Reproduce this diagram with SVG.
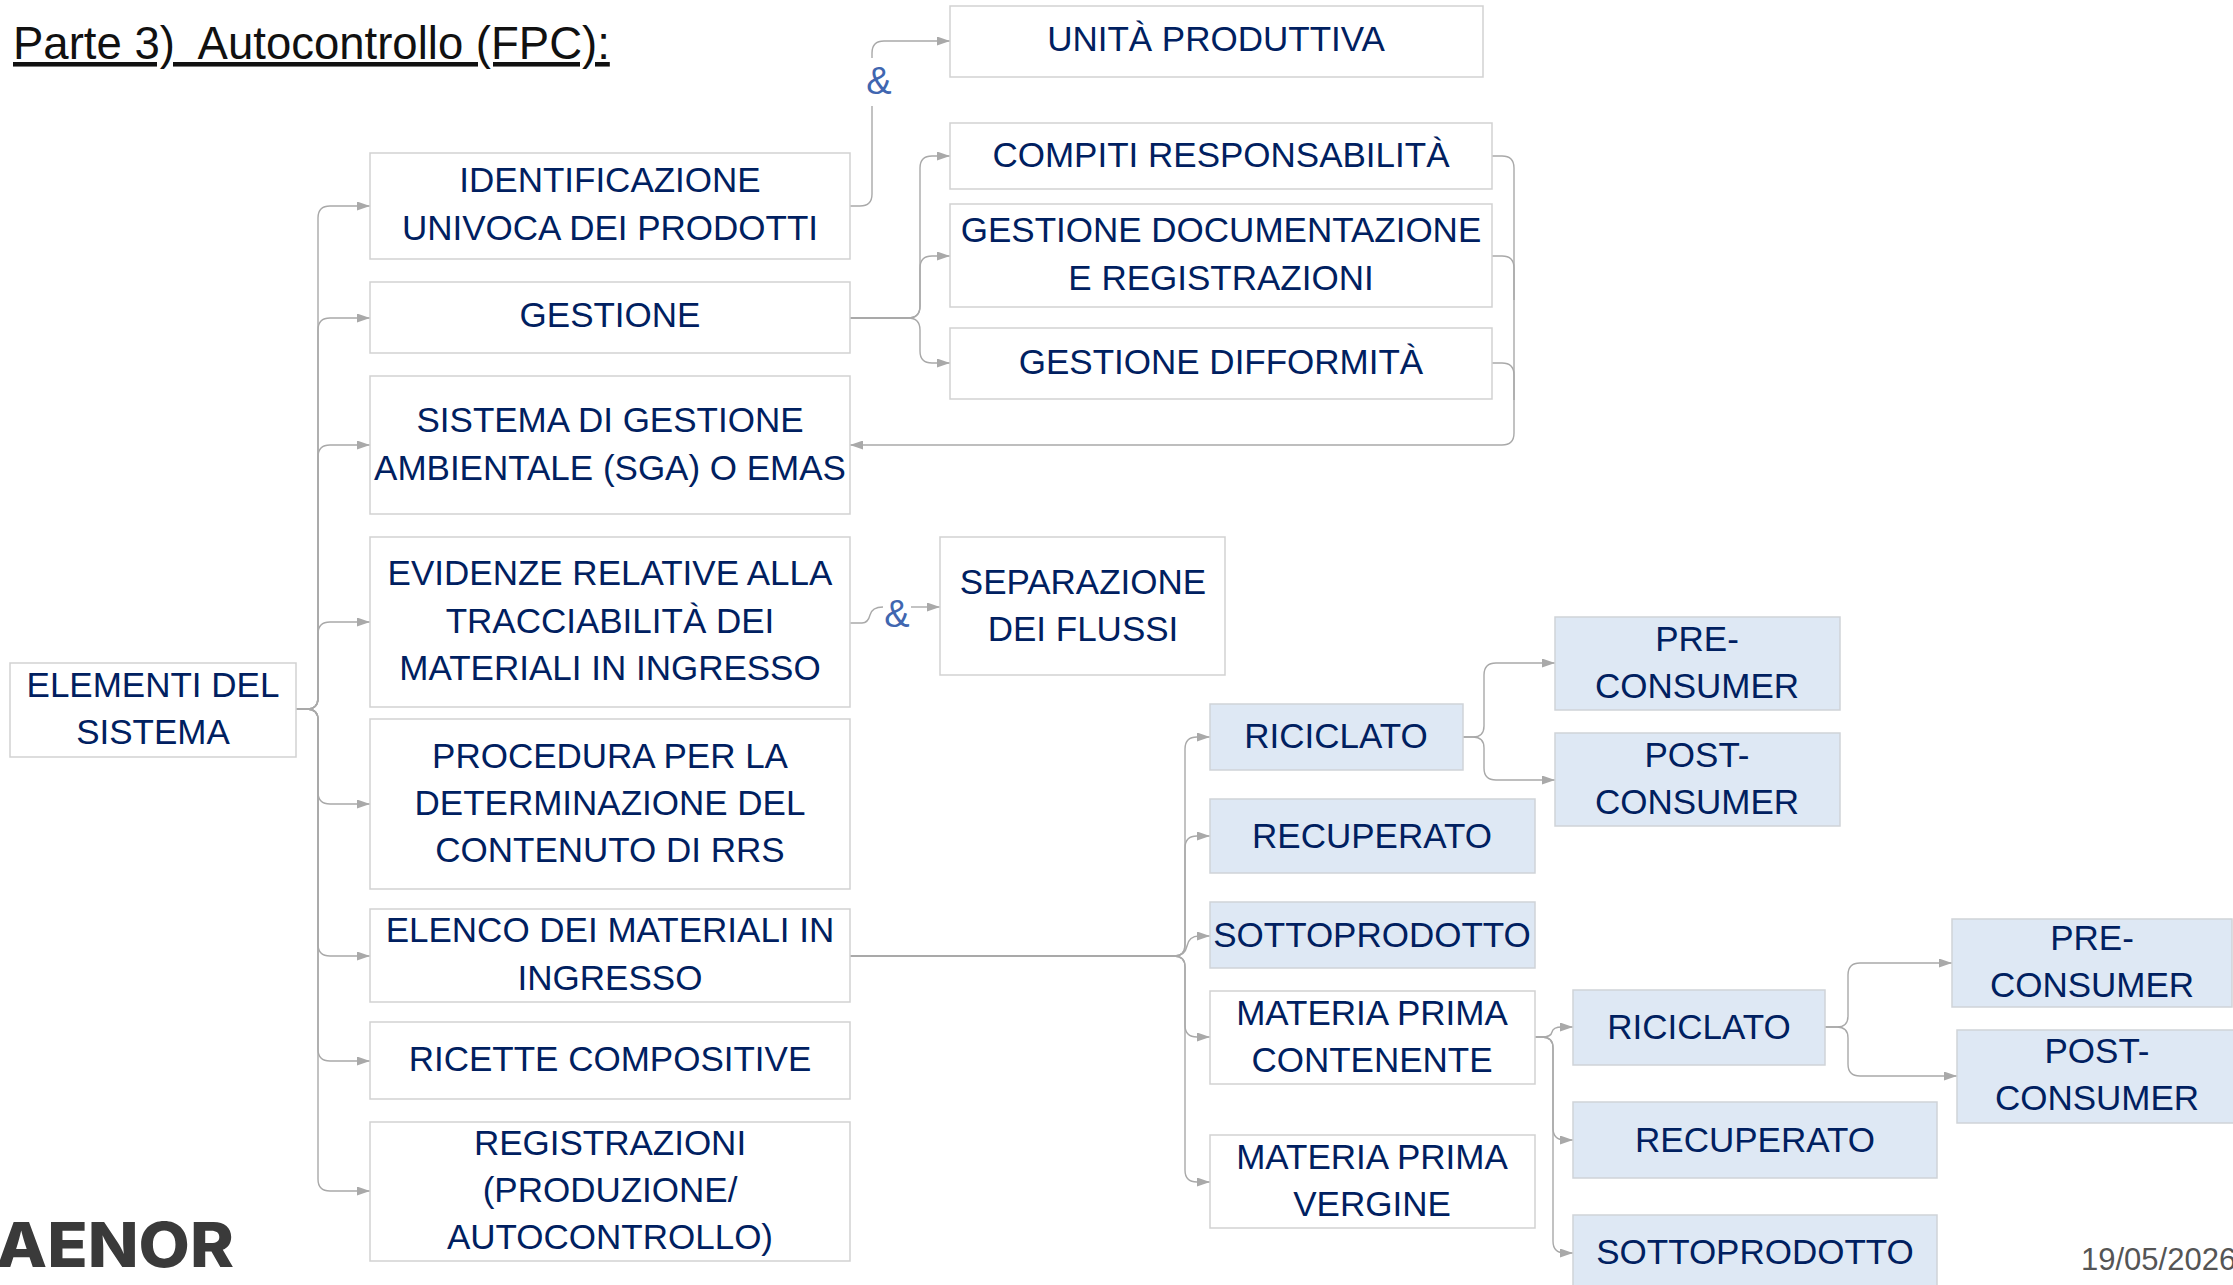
<svg xmlns="http://www.w3.org/2000/svg" width="2233" height="1285" viewBox="0 0 2233 1285">
<style>
text{font-family:"Liberation Sans",Arial,sans-serif;}
.t{font-size:35px;fill:#002060;text-anchor:middle;transform:translateY(-1px);}
.b{fill:#fff;stroke:#d2d2d2;stroke-width:1.5;}
.f{fill:#dee8f4;stroke:#cfd3d8;stroke-width:1.5;}
.c{fill:none;stroke:#a9a9a9;stroke-width:1.4;}
.k{stroke-width:2.2;}
.amp{font-size:38px;fill:#4066b0;text-anchor:middle;}
</style>
<defs>
<marker id="a" markerUnits="userSpaceOnUse" markerWidth="13" markerHeight="9" refX="13" refY="4.5" orient="auto"><path d="M0 0L13 4.5L0 9Z" fill="#a9a9a9"/></marker>
</defs>
<rect width="2233" height="1285" fill="#fff"/>
<text id="title" x="13" y="59" font-size="45.5" fill="#111" text-decoration="underline" xml:space="preserve">Parte 3)  Autocontrollo (FPC):</text>
<g id="connectors">
<path class="c" marker-end="url(#a)" d="M296 709H307Q318 709 318 698V218Q318 206 330 206H370"/>
<path class="c" marker-end="url(#a)" d="M296 709H307Q318 709 318 698V330Q318 318 330 318H370"/>
<path class="c" marker-end="url(#a)" d="M296 709H307Q318 709 318 698V457Q318 445 330 445H370"/>
<path class="c" marker-end="url(#a)" d="M296 709H307Q318 709 318 698V634Q318 622 330 622H370"/>
<path class="c" marker-end="url(#a)" d="M296 709H307Q318 709 318 720V792Q318 804 330 804H370"/>
<path class="c" marker-end="url(#a)" d="M296 709H307Q318 709 318 720V944Q318 956 330 956H370"/>
<path class="c" marker-end="url(#a)" d="M296 709H307Q318 709 318 720V1049Q318 1061 330 1061H370"/>
<path class="c" marker-end="url(#a)" d="M296 709H307Q318 709 318 720V1179Q318 1191 330 1191H370"/>
<path class="c" d="M850 206H860Q872 206 872 194V106"/>
<path class="c" marker-end="url(#a)" d="M872 58V53Q872 41 884 41H950"/>
<path class="c k" d="M850 318H908"/>
<path class="c" marker-end="url(#a)" d="M908 318Q920 318 920 306V168Q920 156 932 156H950"/>
<path class="c" marker-end="url(#a)" d="M908 318Q920 318 920 306V268Q920 256 932 256H950"/>
<path class="c" marker-end="url(#a)" d="M908 318Q920 318 920 330V351Q920 363 932 363H950"/>
<path class="c" marker-end="url(#a)" d="M1492 156H1502Q1514 156 1514 168V433Q1514 445 1502 445H850"/>
<path class="c" d="M1492 256H1502Q1514 256 1514 268V300"/>
<path class="c" d="M1492 363H1502Q1514 363 1514 375V400"/>
<path class="c" d="M850 623H862Q868 623 870 615Q872 607 883 607"/>
<path class="c" marker-end="url(#a)" d="M911 607H940"/>
<path class="c k" d="M850 956H1174"/>
<path class="c" marker-end="url(#a)" d="M1174 956Q1185 956 1185 945V749Q1185 737 1197 737H1210"/>
<path class="c" marker-end="url(#a)" d="M1174 956Q1185 956 1185 945V848Q1185 836 1197 836H1210"/>
<path class="c" marker-end="url(#a)" d="M1174 956Q1185 956 1187 946Q1189 936 1199 936H1210"/>
<path class="c" marker-end="url(#a)" d="M1174 956Q1185 956 1185 967V1025Q1185 1037 1197 1037H1210"/>
<path class="c" marker-end="url(#a)" d="M1174 956Q1185 956 1185 967V1170Q1185 1182 1197 1182H1210"/>
<path class="c" marker-end="url(#a)" d="M1463 737H1473Q1484 737 1484 726V675Q1484 663 1496 663H1555"/>
<path class="c" marker-end="url(#a)" d="M1463 737H1473Q1484 737 1484 748V768Q1484 780 1496 780H1555"/>
<path class="c" marker-end="url(#a)" d="M1535 1037H1542Q1551 1037 1552 1032Q1553 1027 1562 1027H1573"/>
<path class="c" marker-end="url(#a)" d="M1535 1037H1542Q1553 1037 1553 1048V1128Q1553 1140 1565 1140H1573"/>
<path class="c" marker-end="url(#a)" d="M1535 1037H1542Q1553 1037 1553 1048V1241Q1553 1253 1565 1253H1573"/>
<path class="c" marker-end="url(#a)" d="M1825 1027H1837Q1848 1027 1848 1016V975Q1848 963 1860 963H1952"/>
<path class="c" marker-end="url(#a)" d="M1825 1027H1837Q1848 1027 1848 1038V1064Q1848 1076 1860 1076H1957"/>
</g>
<text id="amp1" class="amp" x="879" y="94">&amp;</text>
<text id="amp2" class="amp" x="897" y="627">&amp;</text>
<g id="n1"><rect class="b" x="950" y="6" width="533" height="71"/><text class="t" x="1216" y="52">UNITÀ PRODUTTIVA</text></g>
<g id="n2"><rect class="b" x="370" y="153" width="480" height="106"/><text class="t" x="610" y="193">IDENTIFICAZIONE</text><text class="t" x="610" y="241">UNIVOCA DEI PRODOTTI</text></g>
<g id="n3"><rect class="b" x="370" y="282" width="480" height="71"/><text class="t" x="610" y="328">GESTIONE</text></g>
<g id="n4"><rect class="b" x="370" y="376" width="480" height="138"/><text class="t" x="610" y="433">SISTEMA DI GESTIONE</text><text class="t" x="610" y="481">AMBIENTALE (SGA) O EMAS</text></g>
<g id="n5"><rect class="b" x="950" y="123" width="542" height="66"/><text class="t" x="1221" y="168">COMPITI RESPONSABILITÀ</text></g>
<g id="n6"><rect class="b" x="950" y="204" width="542" height="103"/><text class="t" x="1221" y="243">GESTIONE DOCUMENTAZIONE</text><text class="t" x="1221" y="291">E REGISTRAZIONI</text></g>
<g id="n7"><rect class="b" x="950" y="328" width="542" height="71"/><text class="t" x="1221" y="375">GESTIONE DIFFORMITÀ</text></g>
<g id="n8"><rect class="b" x="10" y="663" width="286" height="94"/><text class="t" x="153" y="698">ELEMENTI DEL</text><text class="t" x="153" y="745">SISTEMA</text></g>
<g id="n9"><rect class="b" x="370" y="537" width="480" height="170"/><text class="t" x="610" y="586">EVIDENZE RELATIVE ALLA</text><text class="t" x="610" y="634">TRACCIABILITÀ DEI</text><text class="t" x="610" y="681">MATERIALI IN INGRESSO</text></g>
<g id="n10"><rect class="b" x="940" y="537" width="285" height="138"/><text class="t" x="1083" y="595">SEPARAZIONE</text><text class="t" x="1083" y="642">DEI FLUSSI</text></g>
<g id="n11"><rect class="b" x="370" y="719" width="480" height="170"/><text class="t" x="610" y="769">PROCEDURA PER LA</text><text class="t" x="610" y="816">DETERMINAZIONE DEL</text><text class="t" x="610" y="863">CONTENUTO DI RRS</text></g>
<g id="n12"><rect class="b" x="370" y="909" width="480" height="93"/><text class="t" x="610" y="943">ELENCO DEI MATERIALI IN</text><text class="t" x="610" y="991">INGRESSO</text></g>
<g id="n13"><rect class="b" x="370" y="1022" width="480" height="77"/><text class="t" x="610" y="1072">RICETTE COMPOSITIVE</text></g>
<g id="n14"><rect class="b" x="370" y="1122" width="480" height="139"/><text class="t" x="610" y="1156">REGISTRAZIONI</text><text class="t" x="610" y="1203">(PRODUZIONE/</text><text class="t" x="610" y="1250">AUTOCONTROLLO)</text></g>
<g id="n15"><rect class="f" x="1210" y="704" width="253" height="66"/><text class="t" x="1336" y="749">RICICLATO</text></g>
<g id="n16"><rect class="f" x="1210" y="799" width="325" height="74"/><text class="t" x="1372" y="849">RECUPERATO</text></g>
<g id="n17"><rect class="f" x="1210" y="902" width="325" height="66"/><text class="t" x="1372" y="948">SOTTOPRODOTTO</text></g>
<g id="n18"><rect class="b" x="1210" y="991" width="325" height="93"/><text class="t" x="1372" y="1026">MATERIA PRIMA</text><text class="t" x="1372" y="1073">CONTENENTE</text></g>
<g id="n19"><rect class="b" x="1210" y="1135" width="325" height="93"/><text class="t" x="1372" y="1170">MATERIA PRIMA</text><text class="t" x="1372" y="1217">VERGINE</text></g>
<g id="n20"><rect class="f" x="1555" y="617" width="285" height="93"/><text class="t" x="1697" y="652">PRE-</text><text class="t" x="1697" y="699">CONSUMER</text></g>
<g id="n21"><rect class="f" x="1555" y="733" width="285" height="93"/><text class="t" x="1697" y="768">POST-</text><text class="t" x="1697" y="815">CONSUMER</text></g>
<g id="n22"><rect class="f" x="1573" y="990" width="252" height="75"/><text class="t" x="1699" y="1040">RICICLATO</text></g>
<g id="n23"><rect class="f" x="1573" y="1102" width="364" height="76"/><text class="t" x="1755" y="1153">RECUPERATO</text></g>
<g id="n24"><rect class="f" x="1573" y="1215" width="364" height="80"/><text class="t" x="1755" y="1265">SOTTOPRODOTTO</text></g>
<g id="n25"><rect class="f" x="1952" y="919" width="280" height="88"/><text class="t" x="2092" y="951">PRE-</text><text class="t" x="2092" y="998">CONSUMER</text></g>
<g id="n26"><rect class="f" x="1957" y="1030" width="280" height="93"/><text class="t" x="2097" y="1064">POST-</text><text class="t" x="2097" y="1111">CONSUMER</text></g>
<text id="logo" x="-4" y="1267" font-size="62" font-weight="800" fill="#3a3a3a" textLength="238" lengthAdjust="spacingAndGlyphs" style="font-family:Inter,'Liberation Sans',sans-serif">AENOR</text>
<text id="date" x="2081" y="1270" font-size="31" fill="#555">19/05/2026</text>
</svg>
